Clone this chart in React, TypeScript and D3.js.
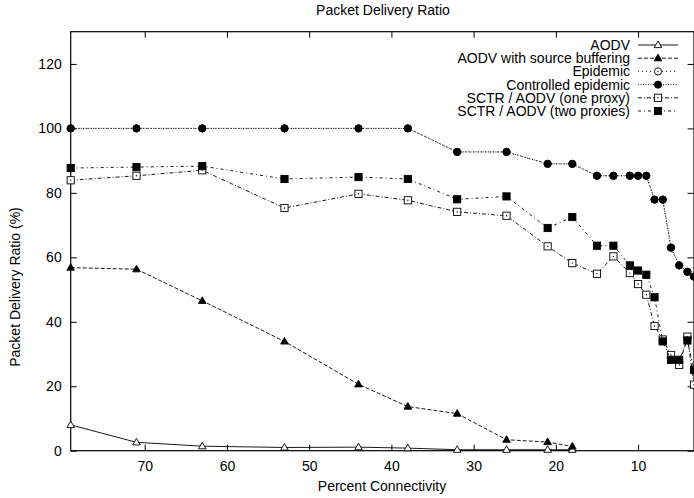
import React, { useEffect, useRef } from 'react'
import * as d3 from 'd3'

// percent connectivity at each sample (x axis runs right to left)
const connectivity = [79, 71, 63, 53, 44, 38, 32, 26, 21, 18, 15, 13, 11, 10, 9, 8, 7, 6, 5, 4, 3.2]

const aodv = [8.0, 2.6, 1.4, 1.0, 1.1, 0.8, 0.3, 0.3, 0.3, 0.3]
const aodvBuffering = [56.8, 56.3, 46.5, 33.9, 20.6, 13.7, 11.5, 3.4, 2.7, 1.3]
const epidemic = [100, 100, 100, 100, 100, 100, 92.7, 92.7, 89.0, 89.0, 85.3, 85.3, 85.3, 85.3, 85.3, 77.9, 77.9, 63.0, 57.5, 55.5, 54.0]
const controlledEpidemic = [100, 100, 100, 100, 100, 100, 92.7, 92.7, 89.0, 89.0, 85.3, 85.3, 85.3, 85.3, 85.3, 77.9, 77.9, 63.0, 57.5, 55.5, 54.0]
const sctrOneProxy = [83.9, 85.3, 87.0, 75.3, 79.7, 77.7, 74.1, 72.9, 63.4, 58.2, 54.9, 60.3, 55.1, 51.7, 48.4, 38.7, 34.5, 29.7, 26.6, 35.4, 20.5]
const sctrTwoProxies = [87.7, 88.0, 88.3, 84.3, 84.9, 84.3, 78.0, 78.9, 69.1, 72.5, 63.6, 63.6, 57.5, 55.9, 54.6, 47.6, 33.9, 28.2, 28.2, 34.2, 25.1]

const seriesLabels = [
  'AODV',
  'AODV with source buffering',
  'Epidemic',
  'Controlled epidemic',
  'SCTR / AODV (one proxy)',
  'SCTR / AODV (two proxies)'
]

const xTicks = [70, 60, 50, 40, 30, 20, 10]
const yTicks = [0, 20, 40, 60, 80, 100, 120]

type Marker = 'triOpen' | 'triFilled' | 'circleOpen' | 'circleFilled' | 'squareOpen' | 'squareFilled'

const series: { label: string; values: number[]; dash: string | null; marker: Marker }[] = [
  { label: seriesLabels[0], values: aodv, dash: null, marker: 'triOpen' },
  { label: seriesLabels[1], values: aodvBuffering, dash: '4,2', marker: 'triFilled' },
  { label: seriesLabels[2], values: epidemic, dash: '1,3', marker: 'circleOpen' },
  { label: seriesLabels[3], values: controlledEpidemic, dash: '1,1.5', marker: 'circleFilled' },
  { label: seriesLabels[4], values: sctrOneProxy, dash: '4,2,1,2', marker: 'squareOpen' },
  { label: seriesLabels[5], values: sctrTwoProxies, dash: '3,3,1,3', marker: 'squareFilled' }
]

const FONT = '"Liberation Sans", Arial, Helvetica, sans-serif'

function drawMarker(g: d3.Selection<SVGGElement, unknown, null, undefined>, kind: Marker, cx: number, cy: number) {
  if (kind === 'triOpen' || kind === 'triFilled') {
    g.append('path')
      .attr('d', `M${cx},${cy - 4}L${cx + 3.8},${cy + 2.6}L${cx - 3.8},${cy + 2.6}Z`)
      .attr('fill', kind === 'triFilled' ? '#000' : '#fff')
      .attr('stroke', '#000')
      .attr('stroke-width', 0.9)
  } else if (kind === 'circleOpen' || kind === 'circleFilled') {
    g.append('circle')
      .attr('cx', cx)
      .attr('cy', cy)
      .attr('r', 3.6)
      .attr('fill', kind === 'circleFilled' ? '#000' : '#fff')
      .attr('stroke', '#000')
      .attr('stroke-width', 0.9)
    if (kind === 'circleOpen') {
      g.append('circle').attr('cx', cx).attr('cy', cy).attr('r', 0.7).attr('fill', '#000')
    }
  } else {
    g.append('rect')
      .attr('x', cx - 3.6)
      .attr('y', cy - 3.6)
      .attr('width', 7.2)
      .attr('height', 7.2)
      .attr('fill', kind === 'squareFilled' ? '#000' : '#fff')
      .attr('stroke', '#000')
      .attr('stroke-width', 0.9)
    if (kind === 'squareOpen') {
      g.append('circle').attr('cx', cx).attr('cy', cy).attr('r', 0.7).attr('fill', '#000')
    }
  }
}

export default function App() {
  const anchor = useRef<SVGSVGElement>(null)

  useEffect(() => {
    const svg = d3.select(anchor.current)
    svg.selectAll('*').remove()

    const x = d3.scaleLinear().domain([79, 3.2]).range([70.7, 694])
    const y = d3.scaleLinear().domain([0, 130]).range([450.7, 31.7])

    // axes (ticks point inwards, mirrored on top and right)
    const bottom = svg
      .append('g')
      .attr('transform', `translate(0,${y(0)})`)
      .call(d3.axisBottom(x).tickValues(xTicks).tickSize(-6).tickPadding(10))
    const left = svg
      .append('g')
      .attr('transform', `translate(${x(79)},0)`)
      .call(d3.axisLeft(y).tickValues(yTicks).tickSize(-6).tickPadding(9))
    const top = svg
      .append('g')
      .attr('transform', `translate(0,${y(130)})`)
      .call(d3.axisTop(x).tickValues(xTicks).tickSize(-6).tickFormat(() => ''))
    const right = svg
      .append('g')
      .attr('transform', `translate(${x(3.2) - 0.5},0)`)
      .call(d3.axisRight(y).tickValues(yTicks).tickSize(-6).tickFormat(() => ''))

    for (const a of [bottom, left, top, right]) {
      a.select('.domain').remove()
      a.attr('font-size', 14).attr('font-family', FONT)
      a.selectAll('line').attr('stroke-width', 1)
    }

    // border
    svg
      .append('rect')
      .attr('x', x(79))
      .attr('y', y(130))
      .attr('width', x(3.2) - x(79))
      .attr('height', y(0) - y(130))
      .attr('fill', 'none')
      .attr('stroke', '#000')
      .attr('stroke-width', 1.2)

    // titles
    svg
      .append('text')
      .attr('x', 383)
      .attr('y', 15)
      .attr('text-anchor', 'middle')
      .attr('font-family', FONT)
      .attr('font-size', 14)
      .text('Packet Delivery Ratio')
    svg
      .append('text')
      .attr('x', 382)
      .attr('y', 491)
      .attr('text-anchor', 'middle')
      .attr('font-family', FONT)
      .attr('font-size', 14)
      .text('Percent Connectivity')
    svg
      .append('text')
      .attr('transform', 'translate(20,287) rotate(-90)')
      .attr('text-anchor', 'middle')
      .attr('font-family', FONT)
      .attr('font-size', 14)
      .text('Packet Delivery Ratio (%)')

    // series
    series.forEach(s => {
      const pts = s.values.map((v, i) => [x(connectivity[i]), y(v)] as [number, number])
      const line = svg
        .append('path')
        .attr('d', d3.line()(pts))
        .attr('fill', 'none')
        .attr('stroke', '#000')
        .attr('stroke-width', 0.9)
      if (s.dash) line.attr('stroke-dasharray', s.dash)
      const g = svg.append('g')
      pts.forEach(p => drawMarker(g, s.marker, p[0], p[1]))
    })

    // legend
    series.forEach((s, i) => {
      const ry = 45 + i * 13.2
      svg
        .append('text')
        .attr('x', 630)
        .attr('y', ry)
        .attr('dy', '0.35em')
        .attr('text-anchor', 'end')
        .attr('font-family', FONT)
        .attr('font-size', 14)
        .text(s.label)
      const l = svg
        .append('line')
        .attr('x1', 638)
        .attr('x2', 678)
        .attr('y1', ry)
        .attr('y2', ry)
        .attr('stroke', '#000')
        .attr('stroke-width', 0.9)
      if (s.dash) l.attr('stroke-dasharray', s.dash)
      drawMarker(svg.append('g'), s.marker, 658, ry)
    })
  }, [])

  return (
    <svg
      ref={anchor}
      width={694}
      height={498}
      style={{ position: 'fixed', left: 0, top: 0, background: '#fff' }}
    />
  )
}
